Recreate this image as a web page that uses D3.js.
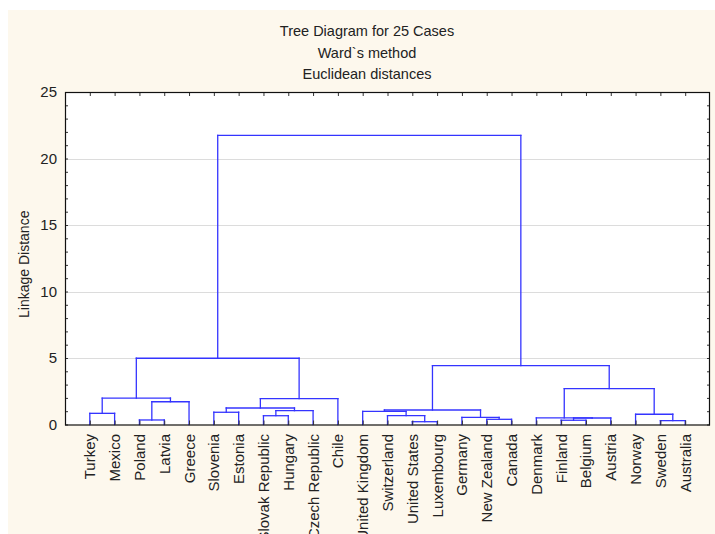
<!DOCTYPE html>
<html><head><meta charset="utf-8">
<script src="https://cdn.jsdelivr.net/npm/d3@7"></script>
<style>
html,body{margin:0;padding:0;background:#fff;}
text{font-family:"Liberation Sans",Arial,sans-serif;fill:#222;}
</style></head>
<body>
<svg id="chart" width="715" height="534"></svg>
<script>
// ---- data ----
const titleLines = ["Tree Diagram for 25 Cases", "Ward`s method", "Euclidean distances"];
const yLabel = "Linkage Distance";
const leaves = ["Turkey","Mexico","Poland","Latvia","Greece","Slovenia","Estonia","Slovak Republic","Hungary","Czech Republic","Chile","United Kingdom","Switzerland","United States","Luxembourg","Germany","New Zealand","Canada","Denmark","Finland","Belgium","Austria","Norway","Sweden","Australia"];
// merge k creates node id 25+k from mergeLeft[k] and mergeRight[k] at mergeHeight[k]
const mergeLeft   = [0, 2, 26, 25, 5, 7, 30, 29, 32, 28, 13, 12, 11, 16, 15, 37, 19, 41, 18, 23, 22, 43, 40, 34];
const mergeRight  = [1, 3, 4, 27, 6, 8, 9, 31, 10, 33, 14, 35, 36, 17, 38, 39, 20, 21, 42, 24, 44, 45, 46, 47];
const mergeHeight = [0.84, 0.34, 1.71, 1.99, 0.92, 0.66, 1.04, 1.24, 1.94, 4.98, 0.21, 0.66, 0.99, 0.39, 0.54, 1.09, 0.32, 0.49, 0.50, 0.29, 0.77, 2.69, 4.42, 21.74];
const yTicks = [0, 5, 10, 15, 20, 25];
const gridValues = [5, 10, 15, 20];

const W = 715, H = 534;
const plot = {left: 65, right: 710, top: 92, bottom: 424.5};
const svg = d3.select("#chart");

// backgrounds
svg.append("rect").attr("x",0).attr("y",0).attr("width",W).attr("height",H).attr("fill","#ffffff");
svg.append("rect").attr("x",8).attr("y",10).attr("width",W-8).attr("height",H-10).attr("fill","#fdf8ed");
svg.append("rect").attr("x",plot.left).attr("y",plot.top)
  .attr("width",plot.right-plot.left).attr("height",plot.bottom-plot.top).attr("fill","#ffffff");

const x = d3.scalePoint().domain(d3.range(leaves.length)).range([plot.left, plot.right]).padding(1);
const y = d3.scaleLinear().domain([0, 25]).range([plot.bottom, plot.top]);

// grid
svg.append("g").selectAll("line").data(gridValues).join("line")
  .attr("x1",plot.left).attr("x2",plot.right)
  .attr("y1",d=>Math.round(y(d))+0.5).attr("y2",d=>Math.round(y(d))+0.5)
  .attr("stroke","#dcdcdc").attr("stroke-width",1);

// dendrogram
const nodes = leaves.map((name,i)=>({x:x(i), h:0}));
const segs = [];
mergeHeight.forEach((h,k)=>{
  const A = nodes[mergeLeft[k]], B = nodes[mergeRight[k]];
  segs.push([A.x, y(A.h), A.x, y(h)]);
  segs.push([B.x, y(B.h), B.x, y(h)]);
  segs.push([A.x, y(h), B.x, y(h)]);
  nodes.push({x:(A.x+B.x)/2, h:h});
});
svg.append("g").selectAll("line").data(segs).join("line")
  .attr("x1",d=>d[0]).attr("y1",d=>d[1]).attr("x2",d=>d[2]).attr("y2",d=>d[3])
  .attr("stroke","#3434ff").attr("stroke-width",1.3).attr("stroke-linecap","square");

// axes ticks (inward)
const minor = d3.range(0, 26);
svg.append("g").attr("transform",`translate(${plot.left},0)`)
  .call(d3.axisRight(y).tickValues(minor).tickSize(3).tickFormat(""))
  .call(g=>g.select(".domain").remove());
svg.append("g").attr("transform",`translate(${plot.right},0)`)
  .call(d3.axisLeft(y).tickValues(minor).tickSize(3).tickFormat(""))
  .call(g=>g.select(".domain").remove());
svg.append("g").attr("transform",`translate(0,${plot.top})`)
  .call(d3.axisBottom(x).tickSize(4).tickFormat(""))
  .call(g=>g.select(".domain").remove());
svg.append("g").attr("transform",`translate(0,${plot.bottom})`)
  .call(d3.axisTop(x).tickSize(4).tickFormat(""))
  .call(g=>g.select(".domain").remove());
svg.selectAll(".tick line").attr("stroke","#333");

// frame
svg.append("rect").attr("x",plot.left+0.5).attr("y",plot.top+0.5)
  .attr("width",plot.right-plot.left-1).attr("height",plot.bottom-plot.top)
  .attr("fill","none").attr("stroke","#111").attr("stroke-width",1.2);

// y tick labels
svg.append("g").attr("transform",`translate(${plot.left},0)`)
  .call(d3.axisLeft(y).tickValues(yTicks).tickSize(0).tickPadding(8).tickFormat(d3.format("d")))
  .call(g=>g.select(".domain").remove())
  .call(g=>g.selectAll("text").style("font-size","15px").attr("fill","#222").style("font-family","'Liberation Sans',Arial,sans-serif"));

// leaf labels
svg.append("g").selectAll("text").data(leaves).join("text")
  .attr("transform",(d,i)=>`translate(${x(i)+5.5},434) rotate(-90)`)
  .attr("text-anchor","end")
  .style("font-size","15px")
  .text(d=>d);

// y axis title
svg.append("text").attr("transform",`translate(29,${(plot.top+plot.bottom)/2+6}) rotate(-90)`)
  .attr("text-anchor","middle").style("font-size","14px").text(yLabel);

// titles
svg.append("g").selectAll("text").data(titleLines).join("text")
  .attr("x",367).attr("y",(d,i)=>36+i*21.5)
  .attr("text-anchor","middle").style("font-size","14.5px").text(d=>d);
</script>
</body></html>
